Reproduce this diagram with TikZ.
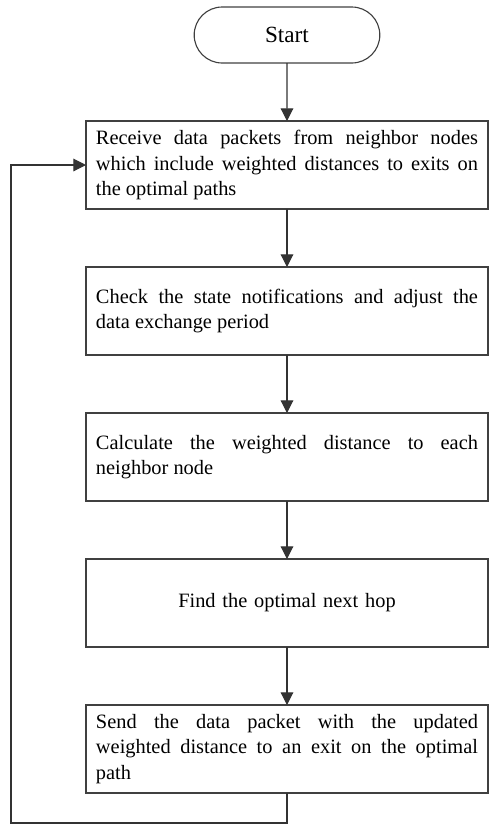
\documentclass[tikz,border=0pt]{standalone}
\usepackage{fontspec}
\setmainfont{Liberation Serif}
\usetikzlibrary{positioning,arrows.meta,shapes.misc}
\hyphenpenalty=10000
\tolerance=9999
\begin{document}
\begin{tikzpicture}[node distance=1.45cm,
    box/.style={draw=black!75, line width=0.8pt, outer sep=0pt, minimum height=2.2cm, text width=9.55cm, inner xsep=0.25cm, align=justify, font=\fontsize{14.5}{18}\selectfont},
    flow/.style={-{Triangle[width=9pt,length=9pt]}, draw=black!80, line width=0.8pt}]
    \useasboundingbox (-7.175,0.875) rectangle (5.025,-19.75);
    % terminal and process steps
    \node[draw=black!75, line width=0.8pt, outer sep=0pt, rounded rectangle, minimum width=4.875cm, minimum height=1.4cm, font=\fontsize{16.5}{20}\selectfont] (start) at (0,0) {Start};
    \node[box, below=of start] (receive) {Receive data packets from neighbor nodes\linebreak which include weighted distances to exits on\linebreak the optimal paths};
    \node[box, below=of receive] (check) {Check the state notifications and adjust the\linebreak data exchange period};
    \node[box, below=of check] (calc) {Calculate the weighted distance to each\linebreak neighbor node};
    \node[box, below=of calc, align=center] (find) {Find the optimal next hop};
    \node[box, below=of find] (send) {Send the data packet with the updated\linebreak weighted distance to an exit on the optimal\linebreak path};
    \foreach \from/\to in {start/receive, receive/check, check/calc, calc/find, find/send}
        \draw[flow] (\from) -- (\to);
    % feedback loop
    \coordinate[below=0.75cm of send.south] (loopbottom);
    \coordinate[left=1.875cm of receive.west] (loopleft);
    \draw[flow] (send) -- (loopbottom) -| (loopleft) -- (receive);
\end{tikzpicture}
\end{document}
